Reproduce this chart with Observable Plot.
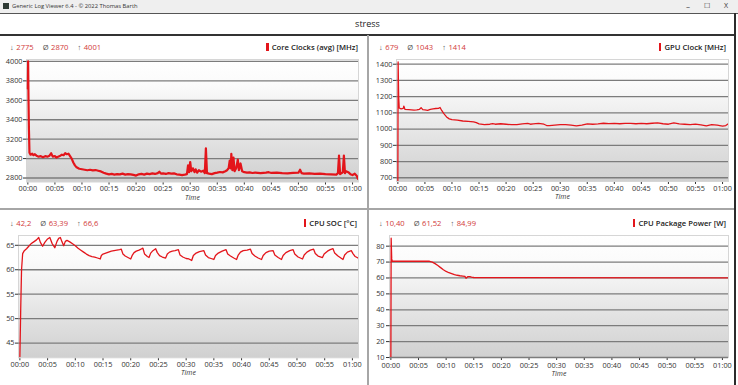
<!DOCTYPE html>
<html><head><meta charset="utf-8">
<script src="https://cdn.jsdelivr.net/npm/d3@7"></script>
<script src="https://cdn.jsdelivr.net/npm/@observablehq/plot@0.6"></script>
<style>
body{margin:0;width:738px;height:385px;position:relative;overflow:hidden;background:#fff;font-family:"Open Sans",sans-serif;}
.abs{position:absolute;}
.stats{position:absolute;display:flex;gap:9px;font-size:7.6px;line-height:12px;white-space:nowrap;}
.stats .sym{color:#555;margin-right:2.5px;}
.stats .num{color:#d23a3a;}
.legend{position:absolute;display:flex;align-items:center;font-size:7.7px;font-weight:600;color:#222;line-height:12px;white-space:nowrap;}
.legend .bar{width:2.5px;height:8.5px;background:#e3151b;margin-right:3px;}
</style></head><body>
<svg width="0" height="0" style="position:absolute"><defs>
<linearGradient id="bg" x1="0" y1="0" x2="0" y2="1">
<stop offset="0" stop-color="#ffffff"/><stop offset="0.2" stop-color="#fbfbfb"/><stop offset="1" stop-color="#d0d0d0"/>
</linearGradient></defs></svg>
<div id="root"></div>
<script>
// ---------- data ----------
const appTitle = "Generic Log Viewer 6.4 - © 2022 Thomas Barth";
const chartTitle = "stress";
const xTicks = [0,5,10,15,20,25,30,35,40,45,50,55,60]; // minutes
const panelNames = ["Core Clocks (avg) [MHz]", "GPU Clock [MHz]", "CPU SOC [°C]", "CPU Package Power [W]"];
const statMin = ["2775", "679", "42,2", "10,40"];
const statAvg = ["2870", "1043", "63,39", "61,52"];
const statMax = ["4001", "1414", "66,6", "84,99"];
const yTicksCore = [2800,3000,3200,3400,3600,3800,4000];
const yTicksGpu = [700,800,900,1000,1100,1200,1300,1400];
const yTicksSoc = [45,50,55,60,65];
const yTicksPow = [10,20,30,40,50,60,70,80];

const coreT = [0,0.05,0.12,0.2,0.3,0.5,0.8,1.0,1.3,1.6,2.0,2.4,2.8,3.2,3.6,4.0,4.3,4.6,5.0,5.3,5.6,6.0,6.3,6.6,6.9,7.2,7.5,7.8,8.1,8.4,8.7,9.0,9.5,10.0,10.5,11.0,11.5,12.0,12.5,13.0,13.5,14.0,14.5,15.0,15.5,16.0,16.5,17.0,17.5,18.0,18.5,19.0,19.5,20.0,20.5,21.0,21.5,22.0,22.5,23.0,23.5,24.0,24.3,24.6,25.0,25.5,26.0,26.5,27.0,27.5,28.0,28.5,29.0,29.4,29.6,29.8,30.0,30.2,30.5,30.8,31.0,31.3,31.6,32.0,32.4,32.7,32.9,33.1,33.5,34.0,34.5,35.0,35.5,36.0,36.5,36.8,37.1,37.3,37.5,37.6,37.8,38.0,38.2,38.5,38.8,39.0,39.3,39.6,40.0,40.5,41.0,41.5,42.0,43.0,44.0,44.5,45.0,46.0,47.0,48.0,49.0,50.0,50.3,50.6,51.0,52.0,53.0,54.0,55.0,56.0,57.0,57.3,57.5,57.7,58.0,58.2,58.4,58.6,58.8,59.2,59.6,60.0,60.4,60.8,61.0];
const coreV = [3720,4001,3600,3300,3060,3040,3050,3035,3045,3030,3020,3025,3015,3025,3020,3030,3055,3020,3025,3010,3020,3030,3040,3035,3055,3045,3050,3025,3000,2960,2930,2910,2895,2890,2885,2880,2885,2878,2882,2875,2868,2855,2845,2838,2842,2835,2840,2838,2845,2835,2840,2838,2832,2825,2838,2842,2835,2845,2840,2848,2842,2850,2865,2845,2848,2842,2850,2845,2848,2838,2835,2830,2835,2840,2930,2860,2965,2870,2900,2860,2890,2855,2880,2865,2875,2850,3105,2850,2845,2840,2850,2855,2862,2858,2870,2880,2900,2980,2900,3050,2880,3010,2870,2900,2990,2880,2950,2870,2860,2855,2858,2852,2856,2850,2855,2860,2852,2855,2850,2848,2852,2855,2885,2850,2845,2848,2842,2845,2840,2838,2835,2850,3030,2840,2850,2860,3030,2850,2870,2860,2840,2830,2845,2820,2790];

const gpuT = [0,0.05,0.15,0.25,0.6,1.0,1.1,1.3,2.0,3.0,3.5,4.0,4.3,4.6,5.0,5.5,6.0,6.5,7.0,7.5,7.8,8.1,8.5,9.0,9.5,10.0,11.0,12.0,13.0,14.0,14.5,15.0,16.0,17.0,17.5,18.0,19.0,20.0,21.0,22.0,23.0,24.0,24.5,25.0,26.0,27.0,27.5,28.0,29.0,30.0,31.0,32.0,33.0,34.0,35.0,36.0,37.0,38.0,39.0,40.0,41.0,42.0,43.0,44.0,45.0,46.0,47.0,48.0,49.0,50.0,51.0,52.0,53.0,54.0,55.0,56.0,57.0,58.0,59.0,60.0,60.6,61.0];
const gpuV = [680,1414,1200,1130,1125,1128,1142,1122,1120,1117,1118,1122,1132,1120,1118,1115,1122,1125,1127,1128,1133,1115,1095,1075,1063,1058,1055,1050,1048,1045,1040,1032,1028,1030,1034,1030,1033,1030,1027,1028,1032,1035,1030,1032,1035,1030,1022,1022,1025,1027,1028,1024,1020,1025,1032,1030,1032,1036,1034,1035,1033,1035,1035,1033,1035,1033,1036,1038,1033,1030,1038,1032,1030,1028,1031,1026,1020,1028,1024,1018,1022,1032];

const socT = [0,0.15,0.3,0.5,0.8,1.2,1.6,2.0,2.5,3.0,3.4,3.7,4.1,4.5,5.0,5.4,5.8,6.3,6.7,7.0,7.3,7.6,7.9,8.2,8.5,9.0,9.5,10.0,10.5,11.0,11.5,12.0,12.5,13.0,13.5,14.0,14.5,14.7,15.0,15.5,16.0,16.5,17.0,17.5,18.0,18.3,18.6,19.0,19.5,20.0,20.3,20.6,21.0,21.5,22.0,22.2,22.5,23.0,23.3,23.6,24.0,24.5,24.8,25.2,25.7,26.3,26.6,27.0,27.5,28.0,28.6,28.9,29.4,30.0,30.5,31.0,31.3,31.8,32.4,33.2,33.5,34.0,34.5,35.0,35.3,35.8,36.5,37.2,37.5,38.0,38.6,39.1,39.4,39.8,40.3,41.0,41.6,41.9,42.4,43.0,43.6,43.9,44.4,45.0,45.7,46.0,46.6,47.2,47.5,48.0,48.7,49.3,49.6,50.2,51.0,51.3,51.8,52.4,53.0,53.3,53.8,54.6,54.9,55.5,56.0,56.5,56.8,57.4,58.3,58.6,59.1,59.8,60.1,60.5,61.0];
const socV = [42.2,52,60,63.3,63.9,64.3,64.8,65.3,65.7,66.1,66.6,65.6,64.8,65.6,66.3,66.6,65.4,64.5,65.8,66.4,66.6,65.7,64.9,65.8,66.0,65.7,65.3,64.9,64.4,64.0,63.6,63.2,62.9,62.7,62.6,62.4,62.2,62.9,63.2,63.4,63.6,63.8,63.9,64.0,64.1,64.2,63.2,62.8,62.5,62.2,63.0,63.5,63.8,64.0,64.3,64.4,63.2,62.7,62.5,63.4,63.9,64.3,63.5,62.9,62.6,62.4,63.2,63.6,63.8,63.9,64.1,63.0,62.6,62.3,62.2,61.9,62.9,63.4,63.7,63.9,63.0,62.5,62.3,62.1,62.9,63.4,63.8,64.1,63.2,62.8,62.4,62.1,63.0,63.6,63.9,64.0,64.2,63.3,62.8,62.4,62.1,62.9,63.5,63.8,63.9,63.0,62.5,62.1,62.9,63.5,63.9,64.1,63.2,62.6,62.2,63.0,63.6,64.0,64.2,63.3,62.8,62.5,63.2,63.8,64.1,64.3,63.4,62.8,62.1,63.0,63.6,63.9,63.3,62.7,62.4];

const powT = [0,0.05,0.15,0.25,7.0,7.5,8.0,8.5,9.0,9.5,10.0,10.5,11.0,11.5,12.0,12.5,13.0,13.4,13.6,13.9,14.3,14.6,15.0,20,61];
const powV = [10.4,84.99,72,70.5,70.5,70,69,67.8,66.5,65.2,64.1,63.3,62.7,62.1,61.7,61.4,61.2,61.0,59.8,60.8,60.9,60.6,60.3,60.2,60.1];

// ---------- layout ----------
const xDomain = [-0.25, 61.1];
const pad = n => String(n).padStart(2, "0");
const fmtTime = m => pad(Math.floor(m / 60)) + ":" + pad(m % 60);

const panels = [
  {t: coreT, v: coreV, yDomain: [2759, 4020], yTicks: yTicksCore, left: 0, top: 50, w: 367, h: 155, ml: 26, mr: 9, mt: 9, mb: 23.5, sw: 2.2, xPad: 1, yPad: 1, timeDy: 17.5, statTop: 41, legRight: 9, legTop: 41},
  {t: gpuT, v: gpuV, yDomain: [677, 1429], yTicks: yTicksGpu, left: 369, top: 50, w: 366, h: 155, ml: 27, mr: 7, mt: 9, mb: 24, sw: 1.3, xPad: 1, yPad: 1, timeDy: 17.5, statTop: 41, legRight: 9, legTop: 41},
  {t: socT, v: socV, yDomain: [42, 67], yTicks: yTicksSoc, left: 0, top: 226, w: 367, h: 159, ml: 18, mr: 9, mt: 9, mb: 27.7, sw: 1.3, xPad: 1, yPad: 1, timeDy: 17.5, statTop: 217, legRight: 10, legTop: 217},
  {t: powT, v: powV, yDomain: [10, 86.7], yTicks: yTicksPow, left: 369, top: 226, w: 366, h: 159, ml: 20, mr: 7, mt: 9, mb: 28, sw: 1.3, xPad: 2, yPad: 2, timeDy: 18.8, statTop: 217, legRight: 9, legTop: 217}
];

const root = document.getElementById("root");
function el(tag, cls, style, text) {
  const e = document.createElement(tag);
  if (cls) e.className = cls;
  if (style) Object.assign(e.style, style);
  if (text != null) e.textContent = text;
  return e;
}

// window chrome
root.appendChild(el("div", "abs", {left: "0", top: "0", width: "738px", height: "13px", background: "#efefef"}));
root.appendChild(el("div", "abs", {left: "3px", top: "3px", width: "6px", height: "6px", background: "#2f3b35"}));
root.appendChild(el("div", "abs", {left: "12px", top: "1px", fontSize: "5.8px", lineHeight: "10px", color: "#333"}, appTitle));
root.appendChild(el("div", "abs", {left: "686px", top: "0px", fontSize: "8px", lineHeight: "12px", color: "#333"}, "–"));
root.appendChild(el("div", "abs", {left: "704px", top: "0px", fontSize: "7px", lineHeight: "12px", color: "#333"}, "☐"));
root.appendChild(el("div", "abs", {left: "724px", top: "0px", fontSize: "7px", lineHeight: "12px", color: "#333"}, "X"));
root.appendChild(el("div", "abs", {left: "0", top: "13px", width: "738px", height: "1px", background: "#555"}));
root.appendChild(el("div", "abs", {left: "0", top: "18px", width: "735px", textAlign: "center", fontSize: "9px", lineHeight: "12px", color: "#222"}, chartTitle));
root.appendChild(el("div", "abs", {left: "0", top: "34px", width: "736px", height: "1.5px", background: "#333"}));
root.appendChild(el("div", "abs", {left: "734px", top: "13px", width: "2px", height: "372px", background: "#2b2b2b"}));
root.appendChild(el("div", "abs", {left: "367px", top: "35px", width: "2px", height: "350px", background: "#a6a6a6"}));
root.appendChild(el("div", "abs", {left: "0", top: "208px", width: "734px", height: "2px", background: "#a6a6a6"}));

panels.forEach((p, i) => {
  const data = p.t.map((t, j) => ({t, v: p.v[j]}));
  const chart = Plot.plot({
    width: p.w, height: p.h,
    marginLeft: p.ml, marginRight: p.mr, marginTop: p.mt, marginBottom: p.mb,
    style: {fontFamily: '"Open Sans", sans-serif', fontSize: "7.3px", color: "#333", background: "transparent", overflow: "visible"},
    x: {domain: xDomain, ticks: xTicks, tickFormat: fmtTime, tickSize: 3, tickPadding: p.xPad, label: null},
    y: {domain: p.yDomain, ticks: p.yTicks, tickFormat: d => String(d), tickSize: 3, tickPadding: p.yPad, label: null},
    marks: [
      Plot.frame({fill: "url(#bg)", stroke: "#d6d6d6"}),
      Plot.gridY(p.yTicks, {stroke: "#7c7c7c", strokeOpacity: 1, strokeWidth: 1.3}),
      Plot.line(data, {x: "t", y: "v", stroke: "#e3151b", strokeWidth: p.sw, clip: true}),
      Plot.text(["Time"], {frameAnchor: "bottom", dy: p.timeDy, fontStyle: "italic", fontSize: 7, fill: "#333"})
    ]
  });
  chart.style.position = "absolute";
  chart.style.left = p.left + "px";
  chart.style.top = p.top + "px";
  root.appendChild(chart);

  const st = el("div", "stats", {left: (p.left + 10) + "px", top: p.statTop + "px"});
  [["↓", statMin[i]], ["Ø", statAvg[i]], ["↑", statMax[i]]].forEach(([s, n]) => {
    const g = el("span");
    g.appendChild(el("span", "sym", null, s));
    g.appendChild(el("span", "num", null, n));
    st.appendChild(g);
  });
  root.appendChild(st);

  const lg = el("div", "legend", {right: (738 - (p.left + p.w) + p.legRight) + "px", top: p.legTop + "px"});
  lg.appendChild(el("span", "bar"));
  lg.appendChild(el("span", null, null, panelNames[i]));
  root.appendChild(lg);
});
</script>
</body></html>
